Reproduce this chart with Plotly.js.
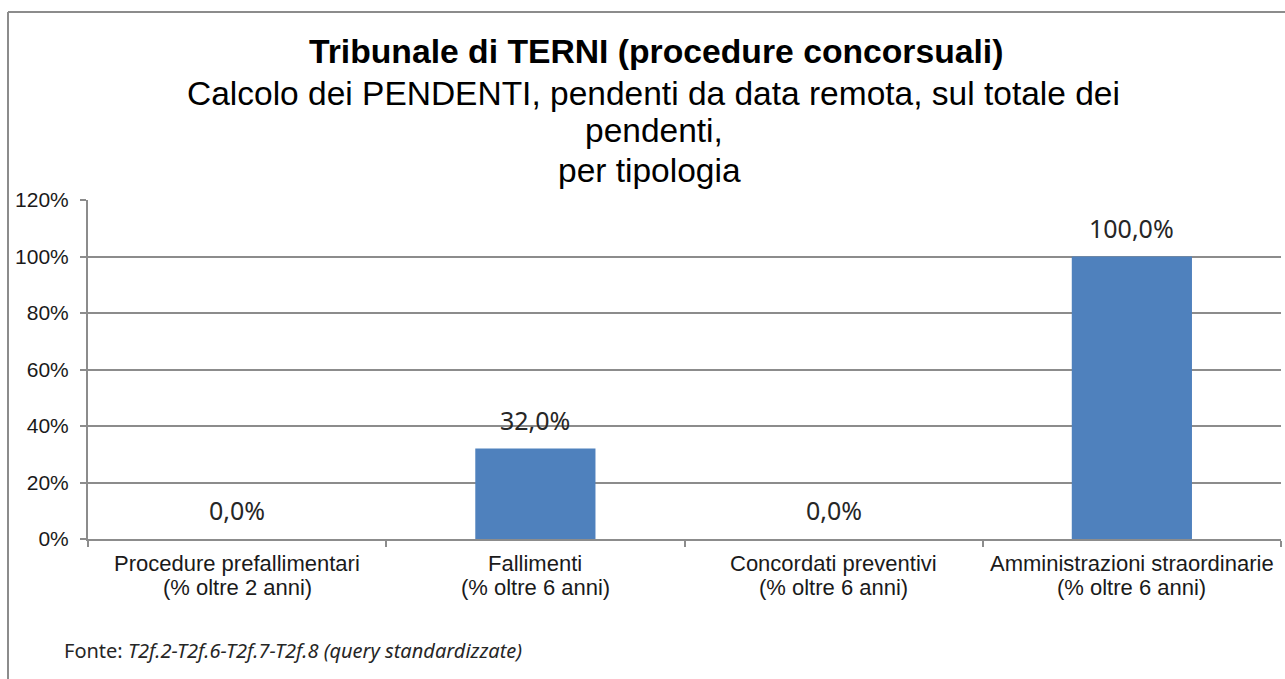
<!DOCTYPE html>
<html>
<head>
<meta charset="utf-8">
<script src="https://cdn.plot.ly/plotly-3.0.1.min.js"></script>
<style>
  html, body { margin: 0; padding: 0; background: #ffffff; }
  #chart { width: 1285px; height: 679px; }
</style>
</head>
<body>
<div id="chart"></div>
<script>
// ---- data ----
const categoryNames = [
  "Procedure prefallimentari",
  "Fallimenti",
  "Concordati preventivi",
  "Amministrazioni straordinarie"
];
const categoryNotes = [
  "(% oltre 2 anni)",
  "(% oltre 6 anni)",
  "(% oltre 6 anni)",
  "(% oltre 6 anni)"
];
const values = [0.0, 0.32, 0.0, 1.0];
const valueLabels = ["0,0%", "32,0%", "0,0%", "100,0%"];
const yTickValues = [0, 0.2, 0.4, 0.6, 0.8, 1.0, 1.2];
const yTickLabels = ["0%", "20%", "40%", "60%", "80%", "100%", "120%"];

const titleLine = "Tribunale di TERNI (procedure concorsuali)";
const subtitleLines = [
  "Calcolo dei PENDENTI, pendenti da data remota, sul totale dei",
  "pendenti,",
  "per tipologia"
];
const sourcePrefix = "Fonte: ";
const sourceText = "T2f.2-T2f.6-T2f.7-T2f.8 (query standardizzate)";

const categories = categoryNames.map((n, i) => n + " " + categoryNotes[i]);

// ---- geometry helpers (plot area in pixels) ----
const L = 88, R = 1281, T = 200, B = 539;
const W = 1285, H = 679;
const px = x => (x - L) / (R - L);
const py = y => (B - y) / (B - T);

const barTrace = {
  type: "bar",
  x: categories,
  y: values,
  marker: { color: "#4F81BD", line: { width: 0 } },
  textposition: "none",
  hoverinfo: "x+y"
};

const arial = "Liberation Sans, Arial, sans-serif";
const sans = "Noto Sans, Open Sans, sans-serif";

const annotations = [];
// title lines
annotations.push({
  xref: "paper", yref: "paper", x: px(656), y: py(51),
  xanchor: "center", yanchor: "middle", showarrow: false,
  text: "<b>" + titleLine + "</b>",
  font: { family: arial, size: 33.7, color: "#000000" }
});
const subCenters = [653, 654, 649];
const subYs = [93, 131, 170];
subtitleLines.forEach((t, i) => {
  annotations.push({
    xref: "paper", yref: "paper", x: px(subCenters[i]), y: py(subYs[i]),
    xanchor: "center", yanchor: "middle", showarrow: false,
    text: t,
    font: { family: arial, size: 33.5, color: "#000000" }
  });
});
// category labels (two lines each)
categories.forEach((c, i) => {
  annotations.push({
    xref: "x", yref: "paper", x: c, y: py(563),
    xanchor: "center", yanchor: "middle", showarrow: false,
    text: categoryNames[i],
    font: { family: arial, size: 22, color: "#1a1a1a" }
  });
  annotations.push({
    xref: "x", yref: "paper", x: c, y: py(587),
    xanchor: "center", yanchor: "middle", showarrow: false,
    text: categoryNotes[i],
    font: { family: arial, size: 22, color: "#1a1a1a" }
  });
});
// data labels
categories.forEach((c, i) => {
  annotations.push({
    xref: "x", yref: "y", x: c, y: values[i],
    xanchor: "center", yanchor: "middle", yshift: 29, showarrow: false,
    text: valueLabels[i],
    font: { family: sans, size: 25, color: "#262626" }
  });
});
// source note
annotations.push({
  xref: "paper", yref: "paper", x: px(62), y: py(650),
  xanchor: "left", yanchor: "middle", showarrow: false,
  text: sourcePrefix + "<i>" + sourceText + "</i>",
  font: { family: sans, size: 20, color: "#262626" }
});

const layout = {
  width: W, height: H,
  margin: { l: L, r: W - R, t: T, b: H - B, pad: 0 },
  paper_bgcolor: "#ffffff",
  plot_bgcolor: "#ffffff",
  showlegend: false,
  bargap: 0.597,
  xaxis: {
    type: "category",
    showgrid: false,
    showticklabels: false,
    showline: true, linecolor: "#8c8c8c", linewidth: 2,
    ticks: "outside", ticklen: 6, tickcolor: "#8c8c8c", tickwidth: 2,
    tickson: "boundaries",
    fixedrange: true
  },
  yaxis: {
    range: [0, 1.2],
    tickvals: yTickValues,
    ticktext: yTickLabels,
    showgrid: true, gridcolor: "#8c8c8c", gridwidth: 2,
    zeroline: false,
    showline: true, linecolor: "#8c8c8c", linewidth: 2,
    ticks: "outside", ticklen: 6, tickcolor: "#8c8c8c", tickwidth: 2,
    ticklabelstandoff: 7,
    tickfont: { family: arial, size: 21, color: "#1a1a1a" },
    fixedrange: true
  },
  shapes: [
    { type: "line", xref: "paper", yref: "paper",
      x0: px(8), x1: px(1290), y0: py(12), y1: py(12),
      line: { color: "#8c8c8c", width: 2 } },
    { type: "line", xref: "paper", yref: "paper",
      x0: px(8), x1: px(8), y0: py(12), y1: py(690),
      line: { color: "#8c8c8c", width: 2 } }
  ],
  annotations: annotations
};

Plotly.newPlot("chart", [barTrace], layout, { displayModeBar: false, staticPlot: true });
</script>
</body>
</html>
